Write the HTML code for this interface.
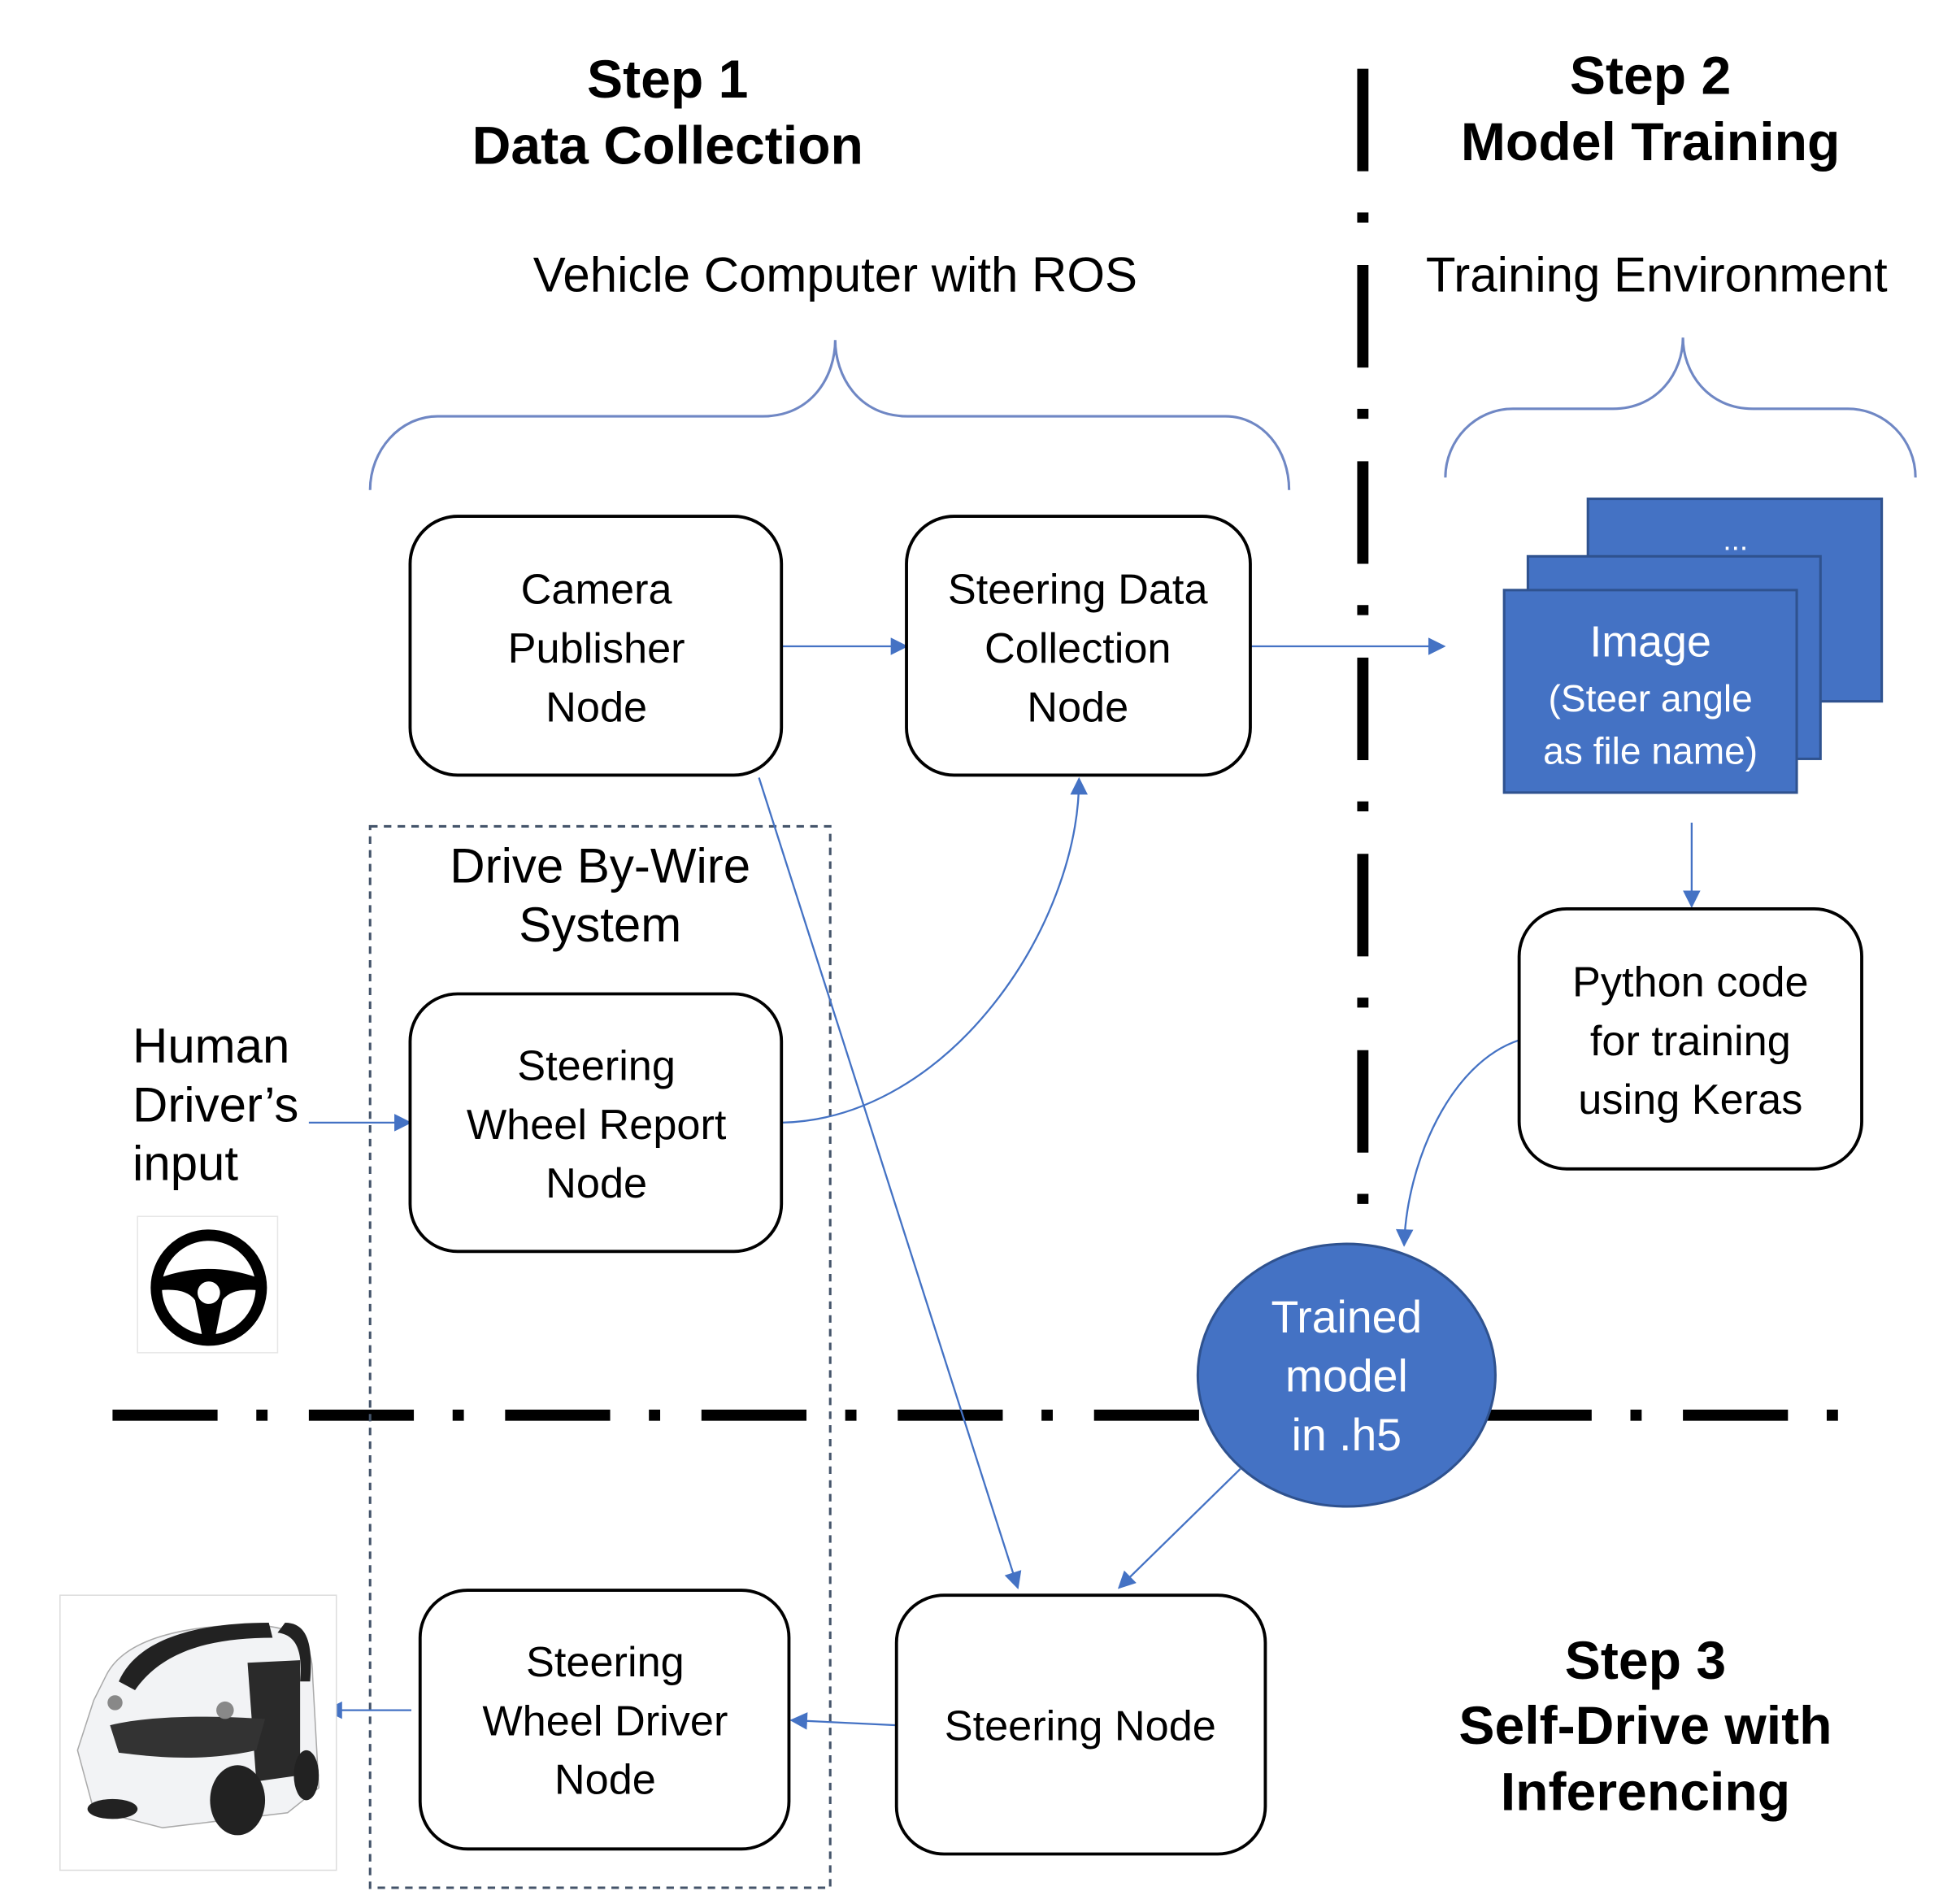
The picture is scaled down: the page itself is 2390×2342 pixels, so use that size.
<!DOCTYPE html>
<html><head><style>html,body{margin:0;padding:0;background:#fff}svg{display:block}</style></head>
<body>
<svg width="2390" height="2342" viewBox="0 0 1554 1523" preserveAspectRatio="none" xmlns="http://www.w3.org/2000/svg">
<defs>
<marker id="b" viewBox="0 0 10 10" refX="9" refY="5" markerWidth="16" markerHeight="14" orient="auto" markerUnits="userSpaceOnUse"><path d="M0,0L10,5L0,10z" fill="#4472c4"/></marker>
</defs>
<g font-family="Liberation Sans, sans-serif" text-anchor="middle">
<g font-weight="bold" font-size="43" fill="#000">
<text x="534" y="78">Step 1</text><text x="534" y="131">Data Collection</text>
<text x="1320" y="75">Step 2</text><text x="1320" y="128">Model Training</text>
<text x="1316" y="1343">Step 3</text><text x="1316" y="1395">Self-Drive with</text><text x="1316" y="1448">Inferencing</text>
</g>
<g font-size="39" fill="#000">
<text x="668" y="233">Vehicle Computer with ROS</text>
<text x="1325" y="233">Training Environment</text>
<text x="480" y="706">Drive By-Wire</text><text x="480" y="753">System</text>
<text x="106" y="850" text-anchor="start">Human</text><text x="106" y="897" text-anchor="start">Driver’s</text><text x="106" y="944" text-anchor="start">input</text>
</g>
</g>
<line x1="1090" y1="55" x2="1090" y2="970" stroke="#000" stroke-width="9" stroke-dasharray="82 33 8 34"/>
<line x1="90" y1="1132" x2="1480" y2="1132" stroke="#000" stroke-width="9" stroke-dasharray="84 31 9 33"/>
<g fill="none" stroke="#6f87c4" stroke-width="2">
<path d="M296,392 C296,360 320,333 350,333 L610,333 C650,333 668,300 668,272 C668,300 686,333 726,333 L980,333 C1010,333 1031,360 1031,392"/>
<path d="M1156,382 C1156,352 1180,327 1210,327 L1290,327 C1326,327 1346,298 1346,270 C1346,298 1366,327 1402,327 L1478,327 C1508,327 1532,352 1532,382"/>
</g>
<rect x="296" y="661" width="368" height="849" fill="none" stroke="#44546a" stroke-width="2" stroke-dasharray="6 5"/>
<g fill="none" stroke="#4472c4" stroke-width="1.5">
<line x1="625" y1="517" x2="725" y2="517" marker-end="url(#b)"/>
<line x1="1000" y1="517" x2="1155" y2="517" marker-end="url(#b)"/>
<line x1="1353" y1="658" x2="1353" y2="725" marker-end="url(#b)"/>
<path d="M1215,832 C1160,850 1125,930 1123,996" marker-end="url(#b)"/>
<line x1="247" y1="898" x2="328" y2="898" marker-end="url(#b)"/>
<path d="M625,898 C760,895 863,740 863,623" marker-end="url(#b)"/>
<line x1="607" y1="622" x2="814" y2="1270" marker-end="url(#b)"/>
<line x1="992" y1="1175" x2="895" y2="1270" marker-end="url(#b)"/>
<line x1="717" y1="1380" x2="633" y2="1376" marker-end="url(#b)"/>
<line x1="329" y1="1368" x2="261" y2="1368" marker-end="url(#b)"/>
</g>
<g fill="#fff" stroke="#000" stroke-width="2.5">
<rect x="328" y="413" width="297" height="207" rx="38"/>
<rect x="725" y="413" width="275" height="207" rx="38"/>
<rect x="1215" y="727" width="274" height="208" rx="38"/>
<rect x="328" y="795" width="297" height="206" rx="38"/>
<rect x="717" y="1276" width="295" height="207" rx="38"/>
<rect x="336" y="1272" width="295" height="207" rx="38"/>
</g>
<g fill="#4472c4" stroke="#2f528f" stroke-width="2">
<rect x="1270" y="399" width="235" height="162"/>
<rect x="1222" y="445" width="234" height="162"/>
<rect x="1203" y="472" width="234" height="162"/>
</g>
<ellipse cx="1077" cy="1100" rx="119" ry="105" fill="#4472c4" stroke="#2f528f" stroke-width="2"/>
<g font-family="Liberation Sans, sans-serif" text-anchor="middle" font-size="34" fill="#000">
<text x="477" y="483">Camera</text><text x="477" y="530">Publisher</text><text x="477" y="577">Node</text>
<text x="862" y="483">Steering Data</text><text x="862" y="530">Collection</text><text x="862" y="577">Node</text>
<text x="1352" y="797">Python code</text><text x="1352" y="844">for training</text><text x="1352" y="891">using Keras</text>
<text x="477" y="864">Steering</text><text x="477" y="911">Wheel Report</text><text x="477" y="958">Node</text>
<text x="864" y="1392">Steering Node</text>
<text x="484" y="1341">Steering</text><text x="484" y="1388">Wheel Driver</text><text x="484" y="1435">Node</text>
<g fill="#fff">
<text x="1388" y="440" font-size="24">...</text>
<text x="1320" y="525" font-size="35">Image</text>
<text x="1320" y="569" font-size="30">(Steer angle</text>
<text x="1320" y="611" font-size="30">as file name)</text>
<text x="1077" y="1066" font-size="36">Trained</text><text x="1077" y="1113" font-size="36">model</text><text x="1077" y="1160" font-size="36">in .h5</text>
</g>
</g>
<rect x="110" y="973" width="112" height="109" fill="#fff" stroke="#e6e6e6" stroke-width="1"/>
<circle cx="167" cy="1030" r="42" fill="none" stroke="#000" stroke-width="9"/>
<path d="M128,1022 Q167,1008 206,1022 L206,1032 Q185,1030 178,1040 L172,1070 L162,1070 L156,1040 Q149,1030 128,1032 Z" fill="#000"/>
<circle cx="167" cy="1034" r="9" fill="#fff"/>
<rect x="48" y="1276" width="221" height="220" fill="#fff" stroke="#ddd" stroke-width="1"/>
<g>
<path d="M75,1360 L85,1340 C100,1310 150,1300 200,1300 C240,1300 250,1315 250,1340 L255,1430 L230,1450 L130,1462 L75,1448 L62,1400 Z" fill="#f2f3f5" stroke="#aaa" stroke-width="1"/>
<path d="M95,1345 C110,1310 160,1298 215,1298 L218,1310 C170,1310 130,1320 108,1352 Z" fill="#222"/>
<path d="M228,1298 C248,1298 250,1320 248,1345 L240,1345 C242,1322 238,1308 222,1306 Z" fill="#222"/>
<path d="M198,1330 L240,1328 L240,1420 L205,1425 Z" fill="#2a2a2a"/>
<path d="M88,1380 C120,1372 170,1372 212,1375 L205,1400 C160,1410 120,1405 95,1402 Z" fill="#333"/>
<circle cx="92" cy="1362" r="6" fill="#888"/><circle cx="180" cy="1368" r="7" fill="#888"/>
<ellipse cx="190" cy="1440" rx="22" ry="28" fill="#222"/>
<ellipse cx="245" cy="1420" rx="10" ry="20" fill="#222"/>
<ellipse cx="90" cy="1447" rx="20" ry="8" fill="#222"/>
</g>
</svg>
</body></html>
